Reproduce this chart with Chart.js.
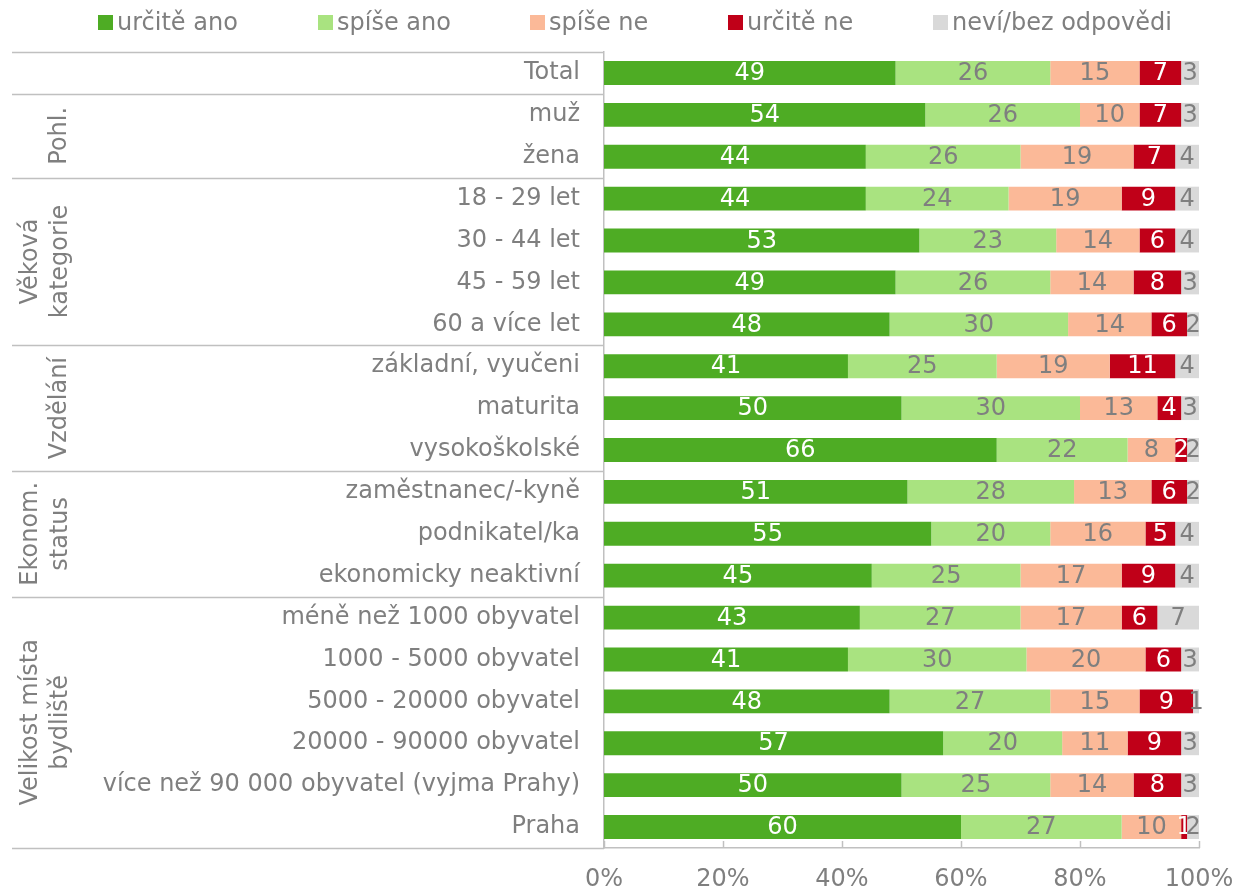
<!DOCTYPE html>
<html><head><meta charset="utf-8">
<script src="https://cdn.jsdelivr.net/npm/chart.js@4.4.1/dist/chart.umd.min.js"></script>
<style>
html,body{margin:0;padding:0;background:#fff;}
#wrap{position:relative;width:1237px;height:889px;overflow:hidden;}
#legend{position:absolute;left:98px;top:7px;display:flex;font-family:'DejaVu Sans',sans-serif;font-size:24px;color:#7f7f7f;}
.li{display:flex;align-items:center;white-space:nowrap;height:30px;}
.sw{width:15px;height:15px;margin-right:4px;flex:none;}
canvas{position:absolute;left:0;top:0;}
</style></head><body>
<div id="wrap"><canvas id="c" width="1237" height="889"></canvas><div id="legend"></div></div>
<script>
const categories = ['Total','muž','žena','18 - 29 let','30 - 44 let','45 - 59 let','60 a více let','základní, vyučeni','maturita','vysokoškolské','zaměstnanec/-kyně','podnikatel/ka','ekonomicky neaktivní','méně než 1000 obyvatel','1000 - 5000 obyvatel','5000 - 20000 obyvatel','20000 - 90000 obyvatel','více než 90 000 obyvatel (vyjma Prahy)','Praha'];
const seriesNames = ['určitě ano','spíše ano','spíše ne','určitě ne','neví/bez odpovědi'];
const urciteAno = [49,54,44,44,53,49,48,41,50,66,51,55,45,43,41,48,57,50,60];
const spiseAno  = [26,26,26,24,23,26,30,25,30,22,28,20,25,27,30,27,20,25,27];
const spiseNe   = [15,10,19,19,14,14,14,19,13,8,13,16,17,17,20,15,11,14,10];
const urciteNe  = [7,7,7,9,6,8,6,11,4,2,6,5,9,6,6,9,9,8,1];
const nevi      = [3,3,4,4,4,3,2,4,3,2,2,4,4,7,3,1,3,3,2];
const xTicks = [0,20,40,60,80,100];
// groups: label lines, first and last category index
const groupLabels = [['Pohl.'],['Věková','kategorie'],['Vzdělání'],['Ekonom.','status'],['Velikost místa','bydliště']];
const groupStart = [1,3,7,10,13];
const groupEnd   = [2,6,9,12,18];

const colors = ['#4EAC24','#A9E380','#FBB998','#C00018','#D9D9D9'];
const labelColors = ['#ffffff','#7f7f7f','#7f7f7f','#ffffff','#7f7f7f'];
const legendItemWidths = [220,212,198,205,260];
const FONT = "'DejaVu Sans', sans-serif";
const GRAY = '#7f7f7f';
const LINE = '#c0c0c0';

const allSeries = [urciteAno, spiseAno, spiseNe, urciteNe, nevi];

// HTML legend
const lg = document.getElementById('legend');
seriesNames.forEach((n,i)=>{
  const d=document.createElement('div');d.className='li';d.style.width=legendItemWidths[i]+'px';
  const s=document.createElement('span');s.className='sw';s.style.background=colors[i];
  d.appendChild(s);d.appendChild(document.createTextNode(n));lg.appendChild(d);
});

const valueLabels = {
  id:'valueLabels',
  afterDatasetsDraw(chart){
    const ctx=chart.ctx;ctx.save();
    ctx.font='24px '+FONT;ctx.textAlign='center';ctx.textBaseline='middle';
    chart.data.datasets.forEach((ds,i)=>{
      const meta=chart.getDatasetMeta(i);
      meta.data.forEach((bar,j)=>{
        const v=ds.data[j]; if(!v) return;
        const p=bar.getProps(['x','base','y'],true);
        ctx.fillStyle=labelColors[i];
        ctx.fillText(String(v),(p.x+p.base)/2,p.y+1);
      });
    });
    ctx.restore();
  }
};

const groupsPlugin = {
  id:'groupsPlugin',
  afterDraw(chart){
    const ctx=chart.ctx, ys=chart.scales.y, xs=chart.scales.x, ca=chart.chartArea;
    const half=(ys.getPixelForValue(1)-ys.getPixelForValue(0))/2;
    ctx.save();
    ctx.strokeStyle=LINE;ctx.lineWidth=1.5;
    const bounds=[0].concat(groupStart).concat([groupEnd[groupEnd.length-1]+1]);
    bounds.forEach(b=>{
      const y=Math.round(ys.getPixelForValue(b)-half)+0.5;
      ctx.beginPath();ctx.moveTo(12,y);ctx.lineTo(ca.left,y);ctx.stroke();
    });
    // inward x ticks
    xTicks.forEach(t=>{
      const x=Math.round(xs.getPixelForValue(t))+0.5;
      ctx.beginPath();ctx.moveTo(x,ca.bottom);ctx.lineTo(x,ca.bottom-7);ctx.stroke();
    });
    // rotated group labels
    ctx.fillStyle=GRAY;ctx.font='24px '+FONT;ctx.textAlign='center';ctx.textBaseline='middle';
    groupLabels.forEach((lines,g)=>{
      const yc=(ys.getPixelForValue(groupStart[g])+ys.getPixelForValue(groupEnd[g]))/2;
      const xsPos = lines.length===1 ? [60] : [31,61];
      lines.forEach((t,k)=>{
        ctx.save();ctx.translate(xsPos[k],yc);ctx.rotate(-Math.PI/2);
        ctx.fillText(t,0,0);ctx.restore();
      });
    });
    ctx.restore();
  }
};

new Chart(document.getElementById('c'),{
  type:'bar',
  data:{
    labels:categories,
    datasets:allSeries.map((d,i)=>({label:seriesNames[i],data:d,backgroundColor:colors[i],borderWidth:0,
      categoryPercentage:1,barPercentage:0.57}))
  },
  options:{
    indexAxis:'y',responsive:false,animation:false,devicePixelRatio:1,
    layout:{padding:{top:52,right:38,left:0,bottom:0}},
    plugins:{legend:{display:false},tooltip:{enabled:false}},
    scales:{
      x:{stacked:true,min:0,max:100,
        afterFit(s){s.height=41;s.paddingLeft=0;s.paddingRight=0;},
        afterBuildTicks(s){s.ticks=xTicks.map(v=>({value:v}));},
        grid:{display:false,drawTicks:false},
        border:{display:true,color:LINE,width:1.5},
        ticks:{color:GRAY,font:{family:FONT,size:24},padding:17,callback:v=>v+'%',maxRotation:0,autoSkip:false}
      },
      y:{stacked:true,
        afterFit(s){s.width=604;s.paddingTop=0;s.paddingBottom=0;},
        grid:{display:false,drawTicks:false},
        border:{display:true,color:LINE,width:1.5},
        ticks:{color:GRAY,font:{family:FONT,size:24},padding:24,autoSkip:false}
      }
    }
  },
  plugins:[valueLabels,groupsPlugin]
});
</script>
</body></html>
